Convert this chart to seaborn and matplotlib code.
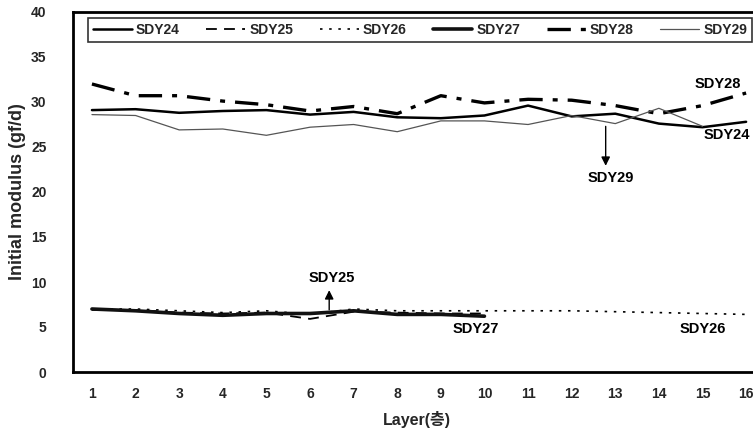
import matplotlib
matplotlib.use("Agg")
import matplotlib.pyplot as plt
import seaborn as sns
import pandas as pd

layers = list(range(1, 17))
sdy24 = [29.1, 29.2, 28.8, 29.0, 29.1, 28.6, 28.9, 28.3, 28.2, 28.5, 29.6, 28.4, 28.7, 27.6, 27.2, 27.8]
sdy25 = [6.9, 6.9, 6.6, 6.5, 6.6, 5.9, 6.7, 6.6, 6.5, 6.5]
sdy26 = [7.0, 7.0, 6.8, 6.6, 6.8, 6.4, 7.0, 6.8, 6.8, 6.8, 6.8, 6.8, 6.7, 6.6, 6.5, 6.4]
sdy27 = [7.0, 6.8, 6.5, 6.3, 6.5, 6.5, 6.8, 6.4, 6.4, 6.2]
sdy28 = [32.0, 30.7, 30.7, 30.1, 29.7, 29.0, 29.5, 28.7, 30.7, 29.9, 30.3, 30.2, 29.6, 28.7, 29.6, 31.0]
sdy29 = [28.6, 28.5, 26.9, 27.0, 26.3, 27.2, 27.5, 26.7, 27.9, 27.9, 27.5, 28.5, 27.6, 29.3, 27.3]

series = {"SDY24": sdy24, "SDY25": sdy25, "SDY26": sdy26,
          "SDY27": sdy27, "SDY28": sdy28, "SDY29": sdy29}

sns.set_theme(style="white")
plt.rcParams['font.family'] = ['Liberation Sans', 'Noto Sans CJK KR', 'DejaVu Sans']

styles = {
    "SDY24": dict(color="black", lw=1.8, ls="-"),
    "SDY25": dict(color="black", lw=1.3, ls=(0, (6, 4))),
    "SDY26": dict(color="black", lw=1.2, ls=(0, (1.5, 4))),
    "SDY27": dict(color="#111111", lw=2.6, ls="-"),
    "SDY28": dict(color="black", lw=2.4, ls=(0, (7, 3, 1.5, 3))),
    "SDY29": dict(color="#555555", lw=0.9, ls="-"),
}

fig = plt.figure(figsize=(7.53, 4.30), dpi=100)
ax = fig.add_axes([73/753, 1 - 372/430, 687.5/753, (372 - 12)/430])

for name, vals in series.items():
    df = pd.DataFrame({"Layer": layers[:len(vals)], "Value": vals})
    st = styles[name]
    sns.lineplot(data=df, x="Layer", y="Value", ax=ax, color=st["color"],
                 linewidth=st["lw"], linestyle=st["ls"], label=name)

ax.set_xlim(0.5655, 16.33)
ax.set_ylim(0, 40)
ax.set_xticks(layers)
ax.set_yticks(range(0, 41, 5))
for lab in ax.get_xticklabels() + ax.get_yticklabels():
    lab.set_fontweight("bold")
    lab.set_fontsize(10)
ax.tick_params(direction="in", length=3, width=1, color="black")
ax.tick_params(axis="x", pad=11)
ax.tick_params(axis="y", pad=19)
for s in ax.spines.values():
    s.set_color("black")
    s.set_linewidth(2)

ax.set_xlabel("Layer(층)", fontsize=11.5, fontweight="bold", labelpad=7)
ax.set_ylabel("Initial modulus (gf/d)", fontsize=13, fontweight="bold", labelpad=4)

leg = ax.legend(loc="upper left", bbox_to_anchor=(0.022, 0.914, 0.966, 0.069), ncol=6,
                mode="expand", frameon=True, fancybox=False, edgecolor="black",
                prop=dict(weight="bold", size=10), handlelength=2.8, handletextpad=0.3,
                borderpad=0.35, columnspacing=1.0, borderaxespad=0)
leg.get_frame().set_linewidth(1.2)

tk = dict(fontsize=10.5, fontweight="bold", color="black")
ax.text(15.36, 32.0, "SDY28", ha="center", va="center", **tk)
ax.text(15.02, 26.3, "SDY24", ha="left", va="center", **tk)
ax.annotate("", xy=(12.78, 22.6), xytext=(12.78, 27.6),
            arrowprops=dict(arrowstyle="-|>", color="black", lw=1, mutation_scale=13))
ax.text(12.89, 21.6, "SDY29", ha="center", va="center", **tk)
ax.annotate("", xy=(6.44, 9.4), xytext=(6.44, 6.6),
            arrowprops=dict(arrowstyle="-|>", color="black", lw=1, mutation_scale=13))
ax.text(6.51, 10.5, "SDY25", ha="center", va="center", **tk)
ax.text(9.80, 4.8, "SDY27", ha="center", va="center", **tk)
ax.text(15.0, 4.8, "SDY26", ha="center", va="center", **tk)

fig.savefig("out.png", dpi=100)
